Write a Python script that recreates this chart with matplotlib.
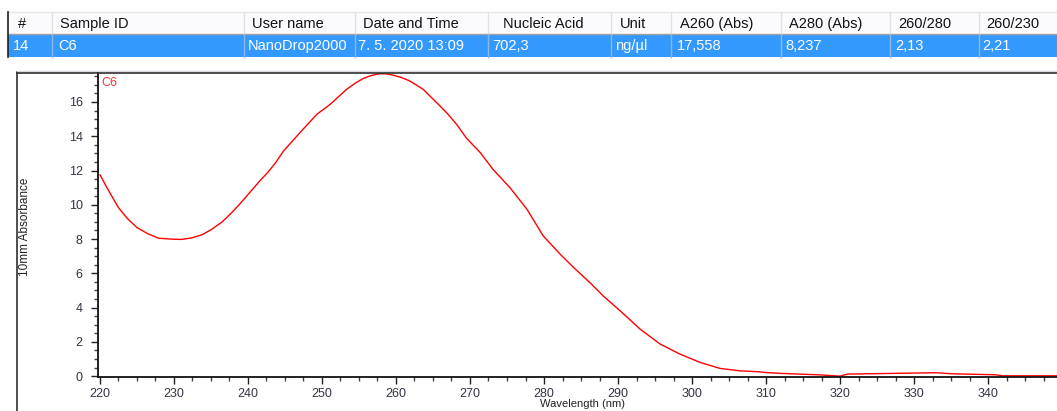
import matplotlib
matplotlib.use("Agg")
import matplotlib.pyplot as plt
from matplotlib.patches import Rectangle
from matplotlib.lines import Line2D
from matplotlib.ticker import MultipleLocator

plt.rcParams['font.family'] = ['Liberation Sans', 'DejaVu Sans']

# ---- data ----
headers = ["#", "Sample ID", "User name", "Date and Time", "Nucleic Acid", "Unit",
           "A260 (Abs)", "A280 (Abs)", "260/280", "260/230"]
row = ["14", "C6", "NanoDrop2000", "7. 5. 2020 13:09", "702,3", "ng/µl",
       "17,558", "8,237", "2,13", "2,21"]

wavelength = [220, 221, 222.5, 223.7, 225, 226.5, 227.9, 229.9, 231.0, 232.4, 233.8, 235.1,
              236.5, 237.8, 239.0, 240.0, 241.6, 242.7, 243.8,
              244.8, 247.0, 249.3, 251.1, 253.3, 254.5, 255.6, 256.7, 257.8, 258.7, 259.6,
              260.8, 261.9, 263.7,
              265.5, 266.9, 268.2, 269.5, 271.4, 273.1, 275.4, 277.7, 279.9, 282.2, 284.0,
              286.2, 288.0, 290.3, 293.0, 295.7, 298.4, 301.1, 303.8, 306.5, 309.2,
              310, 312, 317, 320, 321, 333, 335, 341, 342, 350]
absorbance = [11.75, 10.95, 9.83, 9.2, 8.67, 8.3, 8.05, 7.99, 7.98, 8.07, 8.25, 8.57,
              9.0, 9.54, 10.1, 10.6, 11.4, 11.9, 12.5,
              13.14, 14.2, 15.28, 15.86, 16.73, 17.1, 17.38, 17.55, 17.65, 17.64, 17.57,
              17.42, 17.22, 16.73,
              15.96, 15.35, 14.69, 13.9, 13.04, 12.07, 11.0, 9.74, 8.18, 7.11, 6.34,
              5.46, 4.68, 3.81, 2.74, 1.87, 1.28, 0.80, 0.45, 0.31, 0.25,
              0.21, 0.16, 0.08, 0.0, 0.12, 0.2, 0.14, 0.08, 0.02, 0.02]

W, H = 1057, 411
fig = plt.figure(figsize=(W / 100, H / 100), dpi=100)

def fx(px):
    return px / W

def fy(py):
    return 1 - py / H

# ---- table ----
col_edges = [8, 52, 244, 355, 488, 611, 671, 781, 890, 979, 1057]
hdr_top, hdr_bot, row_bot = 12, 34, 57
fig.patches.append(Rectangle((fx(8), fy(hdr_bot)), fx(1057 - 8), (hdr_bot - hdr_top) / H,
                             transform=fig.transFigure, facecolor="#fbfbfd", edgecolor="none"))
fig.patches.append(Rectangle((fx(8), fy(row_bot)), fx(1057 - 8), (row_bot - hdr_bot) / H,
                             transform=fig.transFigure, facecolor="#3399ff", edgecolor="none"))
fig.lines.append(Line2D([fx(8), fx(1057)], [fy(hdr_top), fy(hdr_top)], transform=fig.transFigure,
                        color="#e4e4ea", lw=1))
fig.lines.append(Line2D([fx(8), fx(1057)], [fy(hdr_bot), fy(hdr_bot)], transform=fig.transFigure,
                        color="#a0a0a0", lw=1))
fig.lines.append(Line2D([fx(8), fx(8)], [fy(hdr_top), fy(row_bot)], transform=fig.transFigure,
                        color="#202020", lw=1.2))
for e in col_edges[1:-1]:
    fig.lines.append(Line2D([fx(e), fx(e)], [fy(hdr_top), fy(hdr_bot)], transform=fig.transFigure,
                            color="#e0e0e6", lw=1))
    fig.lines.append(Line2D([fx(e), fx(e)], [fy(hdr_bot), fy(row_bot)], transform=fig.transFigure,
                            color="#8ab8e6", lw=1))
hdr_x = [18, 60, 252, 363, 503, 620, 680, 789, 898, 986]
row_x = [13, 58, 248, 358, 492, 615, 677, 785, 895, 982]
for hx, h in zip(hdr_x, headers):
    fig.text(fx(hx), fy(24), h, fontsize=10.5, color="#111111", va="center", ha="left")
for rx, r in zip(row_x, row):
    fig.text(fx(rx), fy(46), r, fontsize=10.5, color="#ffffff", va="center", ha="left")

# ---- outer frame ----
fig.lines.append(Line2D([fx(17), fx(17)], [fy(72), fy(411)], transform=fig.transFigure,
                        color="#303030", lw=1.2))
fig.lines.append(Line2D([fx(17), fx(1057)], [fy(71), fy(71)], transform=fig.transFigure,
                        color="#d8d8e0", lw=1))
fig.lines.append(Line2D([fx(17), fx(1057)], [fy(72.5), fy(72.5)], transform=fig.transFigure,
                        color="#303030", lw=1.2))

# ---- plot ----
ax_l, ax_t, ax_r, ax_b = 98, 72, 1057, 377
ax = fig.add_axes([fx(ax_l), fy(ax_b), fx(ax_r - ax_l), (ax_b - ax_t) / H])
ax.plot(wavelength, absorbance, color="#ff0000", lw=1.0)
ax.set_xlim(220 - 2 / 7.4, 220 + (ax_r - 100) / 7.4)
ax.set_ylim(-0.05, 17.75)
ax.xaxis.set_major_locator(MultipleLocator(10))
ax.xaxis.set_minor_locator(MultipleLocator(2.5))
ax.yaxis.set_major_locator(MultipleLocator(2))
ax.yaxis.set_minor_locator(MultipleLocator(0.5))
for s in ["top", "right"]:
    ax.spines[s].set_visible(False)
for s in ["left", "bottom"]:
    ax.spines[s].set_color("#101010")
    ax.spines[s].set_linewidth(1.3)
ax.tick_params(which="major", length=5, width=1, color="#202020", labelsize=9,
               labelcolor="#333344", pad=3)
ax.tick_params(which="minor", length=3, width=1, color="#404040")
ax.tick_params(axis="y", pad=6)
ax.text(0.004, 0.985, "C6", transform=ax.transAxes, color="#ff3333", fontsize=9,
        ha="left", va="top")

fig.text(fx(25), fy(227), "10mm Absorbance", rotation=90, fontsize=8.5, color="#222222",
         ha="center", va="center")
fig.text(fx(582), fy(404), "Wavelength (nm)", fontsize=8, color="#222222",
         ha="center", va="center")

fig.savefig("out.png", dpi=100)
